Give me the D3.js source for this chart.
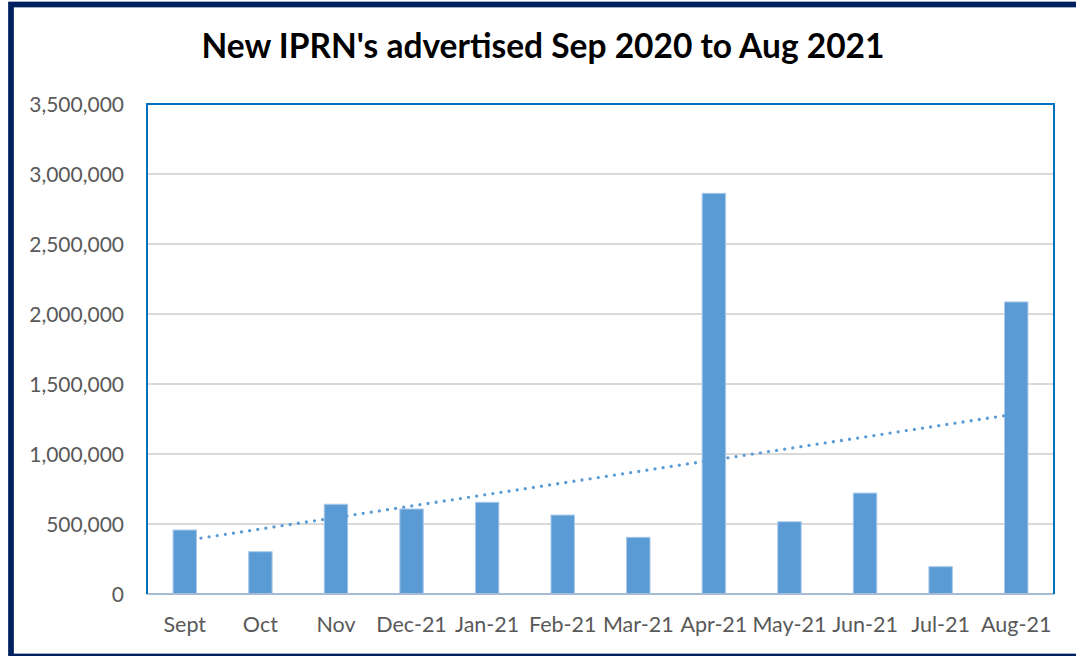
<!DOCTYPE html>
<html>
<head>
<meta charset="utf-8">
<script src="https://cdn.jsdelivr.net/npm/d3@7"></script>
<style>
  html, body { margin: 0; padding: 0; background: #fff; }
  svg { display: block; }
</style>
</head>
<body>
<svg id="chart" width="1076" height="656"></svg>
<script>
var months = ["Sept", "Oct", "Nov", "Dec-21", "Jan-21", "Feb-21", "Mar-21", "Apr-21", "May-21", "Jun-21", "Jul-21", "Aug-21"];
var iprns = [457000, 302000, 641000, 607000, 655000, 564000, 405000, 2862000, 516000, 721000, 195000, 2086000];
var yTicks = [0, 500000, 1000000, 1500000, 2000000, 2500000, 3000000, 3500000];
var chartTitle = "New IPRN's advertised Sep 2020 to Aug 2021";

var width = 1076;
var height = 656;
var plot = { left: 147, right: 1054, top: 104, bottom: 594 };

var svg = d3.select("#chart");

// outer frame
svg.append("rect")
    .attr("x", 11)
    .attr("y", 4.5)
    .attr("width", 1080)
    .attr("height", 652)
    .attr("fill", "#fff")
    .attr("stroke", "#002060")
    .attr("stroke-width", 5.7);

svg.append("text")
    .attr("x", 543)
    .attr("y", 58)
    .attr("text-anchor", "middle")
    .style("font-family", "Lato, 'Open Sans', sans-serif")
    .style("font-weight", "bold")
    .style("font-size", "33.5px")
    .style("fill", "#000")
    .text(chartTitle);

var xScale = d3.scaleBand()
    .domain(months)
    .range([plot.left, plot.right])
    .paddingInner(0.69)
    .paddingOuter(0.345);

var yScale = d3.scaleLinear()
    .domain([0, 3500000])
    .range([plot.bottom, plot.top]);

// gridlines
svg.append("g")
    .selectAll("line")
    .data(yTicks.slice(1, -1))
    .enter()
    .append("line")
    .attr("x1", plot.left)
    .attr("x2", plot.right)
    .attr("y1", d => yScale(d))
    .attr("y2", d => yScale(d))
    .attr("stroke", "#d9d9d9")
    .attr("stroke-width", 2);

var yAxis = d3.axisLeft(yScale)
    .tickValues(yTicks)
    .tickFormat(d3.format(","))
    .tickSize(0)
    .tickPadding(23);

var gy = svg.append("g")
    .attr("transform", `translate(${plot.left},0)`)
    .call(yAxis);
gy.select(".domain").remove();
gy.selectAll("text")
    .attr("dy", "0.36em")
    .style("font-family", "Lato, 'Open Sans', sans-serif")
    .style("font-size", "21px")
    .style("fill", "#595959");

var xAxis = d3.axisBottom(xScale)
    .tickSize(0)
    .tickPadding(23);

var gx = svg.append("g")
    .attr("transform", `translate(0,${plot.bottom})`)
    .call(xAxis);
gx.select(".domain").remove();
gx.selectAll("text")
    .attr("dy", "0.71em")
    .style("font-family", "Lato, 'Open Sans', sans-serif")
    .style("font-size", "21.5px")
    .style("fill", "#595959");

// bars
svg.selectAll(".bar")
    .data(months)
    .enter()
    .append("rect")
    .attr("class", "bar")
    .attr("x", d => xScale(d))
    .attr("y", (d, i) => yScale(iprns[i]))
    .attr("width", xScale.bandwidth())
    .attr("height", (d, i) => plot.bottom - yScale(iprns[i]))
    .attr("fill", "#5b9bd5")
    .attr("stroke", "#a9c8ea")
    .attr("stroke-width", 1);

// linear trendline (least squares over month index)
var n = iprns.length;
var xs = d3.range(1, n + 1);
var mx = d3.mean(xs);
var my = d3.mean(iprns);
var slope = d3.sum(xs, (x, i) => (x - mx) * (iprns[i] - my)) / d3.sum(xs, x => (x - mx) * (x - mx));
var icpt = my - slope * mx;
var trend = [
    { m: months[0], v: icpt + slope * 1 },
    { m: months[n - 1], v: icpt + slope * n }
];

svg.append("path")
    .datum(trend)
    .attr("d", d3.line()
        .x(d => xScale(d.m) + xScale.bandwidth() / 2)
        .y(d => yScale(d.v)))
    .attr("fill", "none")
    .attr("stroke", "#5b9bd5")
    .attr("stroke-width", 3.3)
    .attr("stroke-linecap", "round")
    .attr("stroke-dasharray", "0 8.2");

// axis line at zero
svg.append("line")
    .attr("x1", plot.left)
    .attr("x2", plot.right)
    .attr("y1", plot.bottom)
    .attr("y2", plot.bottom)
    .attr("stroke", "#a6bcd6")
    .attr("stroke-width", 2);

// plot area border: left, top, right
svg.append("path")
    .attr("d", `M${plot.left},${plot.bottom} V${plot.top} H${plot.right} V${plot.bottom}`)
    .attr("fill", "none")
    .attr("stroke", "#0070c0")
    .attr("stroke-width", 2);
</script>
</body>
</html>
